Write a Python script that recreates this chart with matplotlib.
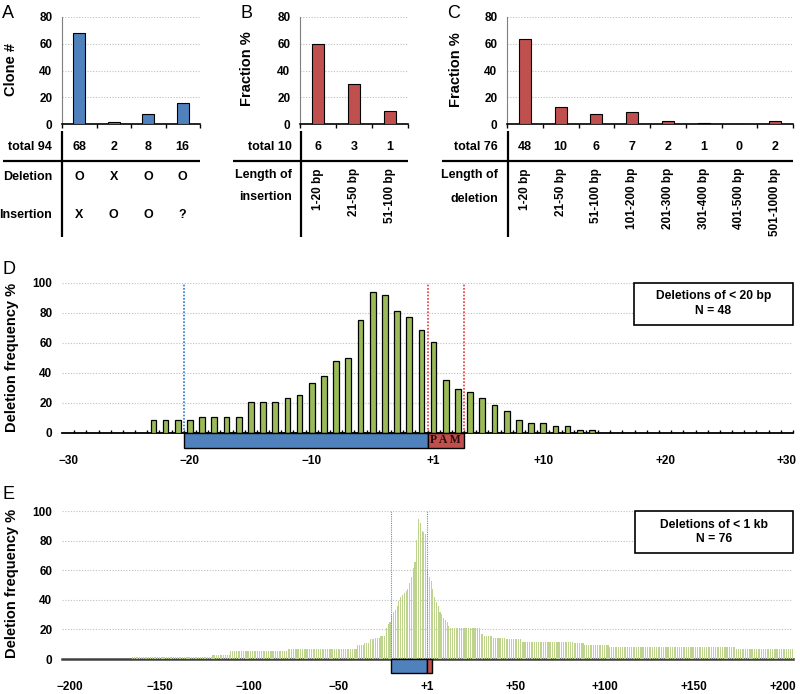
import numpy as np
import matplotlib
matplotlib.use('Agg')
import matplotlib.pyplot as plt
from matplotlib.patches import Rectangle
from matplotlib.transforms import blended_transform_factory

plt.rcParams['font.family'] = ['Liberation Sans', 'DejaVu Sans']
plt.rcParams['font.weight'] = 'bold'

W, H = 800, 694

# ---- A: clones ----
clone_counts = [68, 2, 8, 16]
deletion_marks = ['O', 'X', 'O', 'O']
insertion_marks = ['X', 'O', 'O', '?']

# ---- B: insertion lengths ----
ins_lengths = ['1-20 bp', '21-50 bp', '51-100 bp']
ins_counts = [6, 3, 1]

# ---- C: deletion lengths ----
del_lengths = ['1-20 bp', '21-50 bp', '51-100 bp', '101-200 bp',
               '201-300 bp', '301-400 bp', '401-500 bp', '501-1000 bp']
del_counts = [48, 10, 6, 7, 2, 1, 0, 2]

# ---- D: deletions < 20 bp (positions, no zero) ----
d_pos = list(range(-23, 0)) + list(range(1, 15))
d_pct = [8.3, 8.3, 8.3, 8.3, 10.4, 10.4, 10.4, 10.4, 20.8, 20.8, 20.8, 22.9,
         25.0, 33.3, 37.5, 47.9, 50.0, 75.0, 93.8, 91.7, 81.3, 77.1, 68.8,
         60.4, 35.4, 29.2, 27.1, 22.9, 18.8, 14.6, 8.3, 6.3, 6.3, 4.2, 4.2,
         2.1, 2.1]
d_n = 48

# ---- E: deletions < 1 kb ----
# flat stretches: first position, last position, %
e_step_first = [-165, -120, -110, -78, -39, -35, -32, -29, -26,
                14, 31, 33, 38, 45, 54, 83, 89, 103, 174]
e_step_last = [-121, -111, -79, -40, -36, -33, -30, -27, -24,
               30, 32, 37, 44, 53, 82, 88, 102, 173, 205]
e_step_pct = [1.3, 2.6, 5.3, 6.6, 9.2, 10.5, 13.2, 14.5, 15.8,
              21.1, 17.1, 15.8, 14.5, 13.2, 11.8, 10.5, 9.2, 7.9, 6.6]
# single bars around the cut site
e_peak_pos = list(range(-23, 0)) + list(range(1, 14))
e_peak_pct = [21.1, 23.7, 25.0, 30.3, 31.6, 32.9, 35.5, 39.5, 42.1, 43.4,
              44.7, 46.1, 47.4, 51.3, 55.3, 61.8, 65.8, 80.3, 94.7, 92.1,
              86.8, 85.5, 84.2,
              60.5, 55.3, 52.6, 47.4, 42.1, 38.2, 35.5, 31.6, 30.3, 27.6,
              26.3, 25.0, 22.4]
e_n = 76

protospacer = (-20, -1)
pam = (1, 3)

d_ticks = [-30, -20, -10, 1, 10, 20, 30]
e_ticks = [-200, -150, -100, -50, 1, 50, 100, 150, 200]

BLUE = '#4f81bd'
RED = '#c0504d'
GREEN = '#9bbb59'
LGREEN = '#bdd38e'
GRID = dict(color='#bfbfbf', linestyle=(0, (1, 1.5)), linewidth=0.8)


def to_idx(p):
    # genomic positions skip 0: -1 is followed by +1
    return p if p < 0 else p - 1


def pos_label(p):
    return '\u2212%d' % -p if p < 0 else '+%d' % p


fig = plt.figure(figsize=(W / 100, H / 100), dpi=100)
over = fig.add_axes([0, 0, 1, 1])
over.set_xlim(0, W)
over.set_ylim(H, 0)
over.axis('off')


def px_axes(l, t, r, b):
    return fig.add_axes([l / W, 1 - b / H, (r - l) / W, (b - t) / H])


def hline(x0, x1, y):
    over.plot([x0, x1], [y, y], color='black', lw=1.6, solid_capstyle='butt')


def vline(x, y0, y1):
    over.plot([x, x], [y0, y1], color='black', lw=1.6, solid_capstyle='butt')


def style_top(ax, n):
    ax.set_xlim(-0.5, n - 0.5)
    ax.set_ylim(0, 80)
    ax.set_yticks(range(0, 81, 20))
    ax.set_xticks(np.arange(n + 1) - 0.5)
    ax.set_xticklabels([])
    ax.tick_params(axis='x', direction='out', length=3, width=1)
    ax.tick_params(axis='y', length=0, pad=7, labelsize=8.5)
    ax.yaxis.grid(True, **GRID)
    ax.set_axisbelow(True)
    for s in ['top', 'right']:
        ax.spines[s].set_visible(False)
    ax.spines['left'].set_color('#7f7f7f')
    ax.spines['left'].set_linewidth(0.8)
    ax.spines['bottom'].set_linewidth(1.2)


# ================= A =================
axA = px_axes(62, 16.7, 200, 124.3)
xa = np.arange(len(clone_counts))
axA.bar(xa, clone_counts, width=0.34, color=BLUE, edgecolor='black', lw=0.8, zorder=3)
style_top(axA, len(clone_counts))
trA = blended_transform_factory(axA.transData, over.transData)
for i in xa:
    axA.text(i, 147, str(clone_counts[i]), transform=trA, ha='center', va='center', fontsize=9)
    axA.text(i, 177, deletion_marks[i], transform=trA, ha='center', va='center', fontsize=9)
    axA.text(i, 215, insertion_marks[i], transform=trA, ha='center', va='center', fontsize=9)
over.text(52, 147, 'total %d' % sum(clone_counts), ha='right', va='center', fontsize=9)
over.text(52, 177, 'Deletion', ha='right', va='center', fontsize=9)
over.text(52, 215, 'Insertion', ha='right', va='center', fontsize=9)
hline(3, 200, 160.7)
vline(62, 131, 237)
over.text(11.5, 69, 'Clone #', rotation=90, ha='center', va='center', fontsize=10.5)
over.text(2, 13, 'A', fontsize=13, fontweight='normal', va='center')

# ================= B =================
axB = px_axes(300, 16.7, 408, 124.3)
xb = np.arange(len(ins_counts))
b_pct = np.array(ins_counts) / sum(ins_counts) * 100
axB.bar(xb, b_pct, width=0.33, color=RED, edgecolor='black', lw=0.8, zorder=3)
style_top(axB, len(ins_counts))
trB = blended_transform_factory(axB.transData, over.transData)
for i in xb:
    axB.text(i, 147, str(ins_counts[i]), transform=trB, ha='center', va='center', fontsize=9)
    axB.text(i, 168, ins_lengths[i], transform=trB, rotation=90, ha='center', va='top', fontsize=8.5)
over.text(292, 147, 'total %d' % sum(ins_counts), ha='right', va='center', fontsize=9)
over.text(292, 175, 'Length of', ha='right', va='center', fontsize=9)
over.text(292, 197, 'insertion', ha='right', va='center', fontsize=9)
hline(233, 408, 160.7)
vline(300.5, 131, 237)
over.text(247, 69, 'Fraction %', rotation=90, ha='center', va='center', fontsize=10.5)
over.text(240, 13, 'B', fontsize=13, fontweight='normal', va='center')

# ================= C =================
axC = px_axes(507, 16.7, 793, 124.3)
xc = np.arange(len(del_counts))
c_pct = np.array(del_counts) / sum(del_counts) * 100
axC.bar(xc, c_pct, width=0.33, color=RED, edgecolor='black', lw=0.8, zorder=3)
style_top(axC, len(del_counts))
trC = blended_transform_factory(axC.transData, over.transData)
for i in xc:
    axC.text(i, 147, str(del_counts[i]), transform=trC, ha='center', va='center', fontsize=9)
    axC.text(i, 168, del_lengths[i], transform=trC, rotation=90, ha='center', va='top', fontsize=8.5)
over.text(498, 147, 'total %d' % sum(del_counts), ha='right', va='center', fontsize=9)
over.text(498, 175, 'Length of', ha='right', va='center', fontsize=9)
over.text(498, 199, 'deletion', ha='right', va='center', fontsize=9)
hline(442, 793, 160.7)
vline(507.5, 131, 237)
over.text(456, 70, 'Fraction %', rotation=90, ha='center', va='center', fontsize=10.5)
over.text(447, 13, 'C', fontsize=13, fontweight='normal', va='center')


def style_pos(ax, lo, hi, ticks, pad):
    ax.set_xlim(lo, hi)
    ax.set_ylim(0, 100)
    ax.set_yticks(range(0, 101, 20))
    ax.set_xticks([to_idx(p) for p in ticks])
    ax.set_xticklabels([pos_label(p) for p in ticks])
    ax.tick_params(axis='x', length=0, pad=pad, labelsize=8.5)
    ax.tick_params(axis='y', length=0, pad=7, labelsize=8.5)
    ax.yaxis.grid(True, **GRID)
    ax.set_axisbelow(True)
    for s in ['top', 'right', 'left']:
        ax.spines[s].set_visible(False)


def target_boxes(ax, depth, font):
    ps0, ps1 = to_idx(protospacer[0]) - 0.5, to_idx(protospacer[1]) + 0.5
    pm0, pm1 = to_idx(pam[0]) - 0.5, to_idx(pam[1]) + 0.5
    ax.add_patch(Rectangle((ps0, -depth), ps1 - ps0, depth, fc=BLUE, ec='black',
                           lw=1, clip_on=False, zorder=4))
    ax.add_patch(Rectangle((pm0, -depth), pm1 - pm0, depth, fc=RED, ec='black',
                           lw=1, clip_on=False, zorder=4))
    if font:
        ax.text((pm0 + pm1) / 2, -depth / 2, 'P A M', ha='center', va='center',
                family='Liberation Serif', fontsize=font, color='#2a0808', zorder=5)
    return ps0, ps1, pm0, pm1


def note_box(ax, x0, y0, txt):
    ax.add_patch(Rectangle((x0, y0), 1 - x0, 1 - y0, transform=ax.transAxes,
                           fc='white', ec='black', lw=1.2, clip_on=False, zorder=6))
    ax.text((x0 + 1) / 2, (y0 + 1) / 2, txt, transform=ax.transAxes, ha='center',
            va='center', fontsize=8.7, linespacing=1.3, zorder=7)


# ================= D =================
axD = px_axes(62, 282.7, 793, 432.7)
axD.bar([to_idx(p) for p in d_pos], d_pct, width=0.47, color=GREEN,
        edgecolor='black', lw=0.9, zorder=3)
style_pos(axD, -30.5, 29.5, d_ticks, 16)
axD.set_xticks(np.arange(-30, 30) + 0.5, minor=True)
axD.tick_params(axis='x', which='minor', direction='in', length=2.5, width=1)
axD.spines['bottom'].set_linewidth(1.3)
ps0, ps1, pm0, pm1 = target_boxes(axD, 10.3, 8.5)
axD.vlines([ps0], 0, 100, color='#2e75c8', ls=(0, (1, 1)), lw=1.2, zorder=2)
axD.vlines([pm0, pm1], 0, 100, color='#e03a3a', ls=(0, (1, 1)), lw=1.2, zorder=2)
note_box(axD, 0.782, 0.718, 'Deletions of < 20 bp\nN = %d' % d_n)
over.text(12, 357, 'Deletion frequency %', rotation=90, ha='center', va='center', fontsize=10.5)
over.text(3, 269, 'D', fontsize=13, fontweight='normal', va='center')

# ================= E =================
e_pos, e_val = [], []
for f, l, p in zip(e_step_first, e_step_last, e_step_pct):
    for q in range(f, l + 1):
        e_pos.append(q)
        e_val.append(p)
e_pos += e_peak_pos
e_val += e_peak_pct

axE = px_axes(62, 511, 793, 659)
axE.bar([to_idx(p) for p in e_pos], e_val, width=0.6, color=LGREEN, lw=0, zorder=3)
style_pos(axE, -204.5, 204.5, e_ticks, 16)
axE.spines['bottom'].set_color('#404040')
axE.spines['bottom'].set_linewidth(1.8)
ps0, ps1, pm0, pm1 = target_boxes(axE, 9.5, 0)
axE.vlines([ps0, ps1], 0, 100, color='#5b8fd0', ls=(0, (1, 1)), lw=0.8, zorder=4)
note_box(axE, 0.784, 0.716, 'Deletions of < 1 kb\nN = %d' % e_n)
over.text(12.5, 583, 'Deletion frequency %', rotation=90, ha='center', va='center', fontsize=10.5)
over.text(3, 494, 'E', fontsize=13, fontweight='normal', va='center')

fig.savefig('out.png', dpi=100)
